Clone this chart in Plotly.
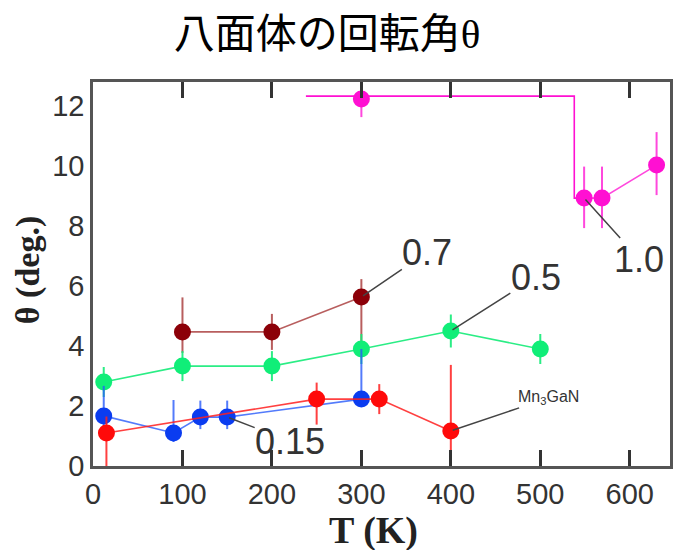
import plotly.graph_objects as go

# ---- data ----
T_015 = [12, 90, 120, 150, 300]
th_015 = [1.67, 1.1, 1.63, 1.63, 2.23]
ep_015 = [1.0, 1.1, 0.55, 0.55, 1.67]
em_015 = [0.4, 0.3, 0.4, 0.4, 0.0]

T_05 = [12, 100, 200, 300, 400, 500]
th_05 = [2.8, 3.33, 3.33, 3.9, 4.5, 3.9]
ep_05 = [0.5, 0.5, 0.5, 0.5, 0.55, 0.5]
em_05 = [0.5, 0.5, 0.5, 0.5, 0.55, 0.5]

T_07 = [100, 200, 300]
th_07 = [4.47, 4.47, 5.63]
ep_07 = [1.15, 0.6, 0.6]
em_07 = [0.7, 0.6, 1.73]

T_10 = [300, 549, 569, 630]
th_10 = [12.23, 8.93, 8.93, 10.03]
ep_10 = [0.6, 1.05, 1.05, 1.1]
em_10 = [0.6, 1.0, 1.0, 1.0]
T_10_guide = [238, 538, 538, 549]
th_10_guide = [12.33, 12.33, 8.93, 8.93]

T_mn = [15, 250, 320, 400]
th_mn = [1.1, 2.23, 2.23, 1.17]
ep_mn = [0.55, 0.55, 0.5, 2.2]
em_mn = [1.1, 0.85, 0.5, 1.17]

x_ticks = [0, 100, 200, 300, 400, 500, 600]
y_ticks = [0, 2, 4, 6, 8, 10, 12]

C_015 = "#0a3cf0"
C_05 = "#10ee78"
C_07 = "#8c0008"
C_10 = "#ff10d2"
C_MN = "#ff0a0a"

fig = go.Figure()


def add_series(T, th, ep, em, color, linecolor, connect=True, line_T=None, line_th=None):
    if connect:
        fig.add_trace(go.Scatter(x=line_T if line_T else T, y=line_th if line_th else th,
                                 mode="lines", line=dict(color=linecolor, width=1.6),
                                 hoverinfo="skip", showlegend=False))
    fig.add_trace(go.Scatter(
        x=T, y=th, mode="markers",
        marker=dict(color=color, size=17, line=dict(width=0)),
        error_y=dict(type="data", symmetric=False, array=ep, arrayminus=em,
                     color=linecolor, thickness=2, width=0),
        showlegend=False))


add_series(T_07, th_07, ep_07, em_07, C_07, "rgba(160,40,40,0.75)")
add_series(T_05, th_05, ep_05, em_05, C_05, "rgba(20,235,120,0.9)")
add_series(T_015, th_015, ep_015, em_015, C_015, "rgba(40,90,250,0.8)")
add_series(T_mn, th_mn, ep_mn, em_mn, C_MN, "rgba(255,30,30,0.85)")
# magenta guide line
fig.add_trace(go.Scatter(x=T_10_guide, y=th_10_guide, mode="lines",
                         line=dict(color=C_10, width=1.6), showlegend=False, hoverinfo="skip"))
add_series(T_10, th_10, ep_10, em_10, C_10, "rgba(255,40,215,0.85)",
           line_T=T_10[1:], line_th=th_10[1:])

lab_col = "#333333"
labels = [
    (T_07[2], th_07[2], "0.7", 66, -45, 36),
    (T_05[4], th_05[4], "0.5", 85, -54, 36),
    (T_10[1], th_10[1], "1.0", 55, 61, 36),
    (T_015[3], th_015[3], "0.15", 63, 24, 36),
    (T_mn[3], th_mn[3], "Mn<sub>3</sub>GaN", 98, -33, 16),
]
for x, y, txt, ax, ay, fs in labels:
    fig.add_annotation(x=x, y=y, text=txt, showarrow=True, arrowhead=0,
                       arrowwidth=1.5, arrowcolor="#444", ax=ax, ay=ay,
                       font=dict(family="Liberation Sans, Arial", size=fs, color=lab_col),
                       borderpad=0, standoff=2)

# axis titles
fig.add_annotation(text="<b>T (K)</b>", xref="paper", yref="paper", x=0.487, y=0,
                   yshift=-64, xanchor="center", yanchor="middle", showarrow=False,
                   borderpad=0,
                   font=dict(family="Liberation Serif", size=38, color="#222"))
fig.add_annotation(text="<b>θ (deg.)</b>", xref="paper", yref="paper", x=0, y=0.51,
                   xshift=-65, xanchor="center", yanchor="middle", showarrow=False,
                   textangle=-90, borderpad=0,
                   font=dict(family="Liberation Serif", size=34, color="#222"))

fig.update_layout(
    width=677, height=550,
    margin=dict(l=93, r=4, t=82, b=84),
    paper_bgcolor="white", plot_bgcolor="white",
    showlegend=False,
    title=dict(text='八面体の回転角<span style="font-family:Liberation Serif">θ</span>',
               x=327 / 677, xanchor="center", xref="container",
               y=1 - 34 / 550, yanchor="middle", yref="container",
               font=dict(family="Noto Sans CJK JP", size=41, color="black")),
    xaxis=dict(range=[0, 645], tickvals=x_ticks, ticks="inside", ticklen=16,
               tickwidth=2.5, tickcolor="#333", mirror="ticks", showline=True,
               linecolor="#555", linewidth=2.5, showgrid=False, zeroline=False,
               tickfont=dict(family="Liberation Sans, Arial", size=29, color="#333")),
    yaxis=dict(range=[0, 12.8], tickvals=y_ticks, ticks="", showline=True, mirror=True,
               linecolor="#555", linewidth=2.5, showgrid=False, zeroline=False,
               tickfont=dict(family="Liberation Sans, Arial", size=29, color="#333")),
)

fig.write_html("out.html")
